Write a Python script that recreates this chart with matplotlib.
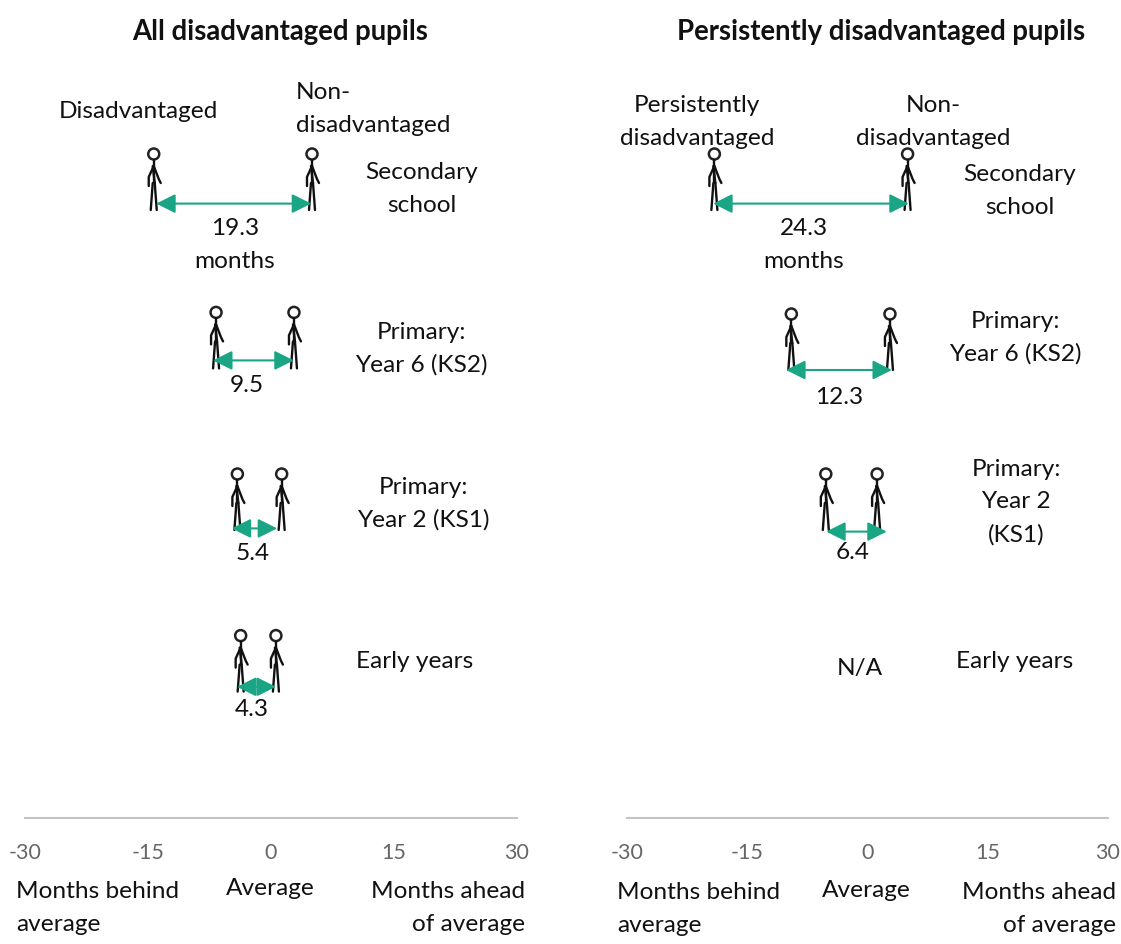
import matplotlib
matplotlib.use('Agg')
import matplotlib.pyplot as plt
from matplotlib.patches import Circle
from matplotlib.transforms import Affine2D

W, H = 1121, 945
TEAL = '#1aa585'
GREY = '#666666'
FONT = 'Lato'
SIZE = 17.6

ticks = [-30, -15, 0, 15, 30]

# rows: secondary, year 6, year 2, early years
all_low = [-14.3, -6.7, -4.1, -3.7]
all_high = [5.0, 2.8, 1.3, 0.6]
all_row = [0.0, 0.99, 2.0, 3.01]
all_arrow_low = [-14.0, -7.07, -4.8, -4.15]
all_arrow_high = [4.9, 2.77, 0.75, 0.6]
all_arrow_row = [-0.04, 0.94, 1.99, 2.98]
all_gaps = ['19.3\nmonths', '9.5', '5.4', '4.3']

pers_low = [-19.1, -9.5, -5.2]
pers_high = [5.0, 2.8, 1.2]
pers_row = [0.0, 1.0, 2.0]
pers_arrow_low = [-19.25, -10.15, -5.15]
pers_arrow_high = [5.15, 3.05, 2.4]
pers_arrow_row = [-0.04, 1.0, 2.01]
pers_gaps = ['24.3\nmonths', '12.3', '6.4']

plt.rcParams['font.family'] = [FONT, 'DejaVu Sans']
fig = plt.figure(figsize=(W / 100, H / 100), dpi=100)


def make_axes(x0, x1):
    # bottom spine sits at y=819, rows are 160px apart
    ax = fig.add_axes([x0 / W, 1 - 819 / H, (x1 - x0) / W, (819 - 51) / H])
    ax.set_xlim(-30, 30)
    ax.set_ylim(3.8, -1)
    ax.set_xticks(ticks)
    ax.set_xticklabels([str(t) for t in ticks], fontsize=15.5, color=GREY)
    ax.set_yticks([])
    ax.tick_params(axis='x', length=0, pad=17)
    ax.patch.set_visible(False)
    for s in ['top', 'left', 'right']:
        ax.spines[s].set_visible(False)
    ax.spines['bottom'].set_color('#c4c4c4')
    ax.spines['bottom'].set_linewidth(1.5)
    return ax


def stick_man(ax, x, row):
    px, py = ax.transData.transform((x, row))
    # local coords in pixels, y down, feet at 0
    tr = Affine2D().scale(1, -1).translate(px, py)
    ax.add_patch(Circle((0, -56), 5.5, fill=False, ec='#222222', lw=1.8, transform=tr, clip_on=False))
    parts = [
        ([0, 0], [-50, -27]),
        ([-1, -3], [-27, 0]),
        ([1, 3], [-27, 0]),
        ([0, -5, -5], [-44, -33, -24]),
        ([0, 5, 7], [-44, -31, -27]),
        ([-1, 1], [-44, -27]),
    ]
    for xs, ys in parts:
        ax.plot(xs, ys, color='#111111', lw=1.7, transform=tr, clip_on=False,
                solid_capstyle='round')


def arrow(ax, x0, x1, row):
    ax.annotate('', xy=(x1, row), xytext=(x0, row),
                arrowprops=dict(arrowstyle='<|-|>,head_length=0.58,head_width=0.29',
                                color=TEAL, lw=1.5, shrinkA=0, shrinkB=0,
                                mutation_scale=20))


def label(x, y, s, ha='center', bold=False, size=SIZE, ls=1.66):
    fig.text(x / W, 1 - y / H, s, ha=ha, va='center', multialignment=ha,
             fontsize=size, linespacing=ls, color='#111111',
             fontweight='bold' if bold else 'normal')


ax1 = make_axes(25, 517)
ax2 = make_axes(627, 1108)
fig.canvas.draw()

for i in range(len(all_low)):
    stick_man(ax1, all_low[i], all_row[i])
    stick_man(ax1, all_high[i], all_row[i])
    arrow(ax1, all_arrow_low[i], all_arrow_high[i], all_arrow_row[i])

for i in range(len(pers_low)):
    stick_man(ax2, pers_low[i], pers_row[i])
    stick_man(ax2, pers_high[i], pers_row[i])
    arrow(ax2, pers_arrow_low[i], pers_arrow_high[i], pers_arrow_row[i])

# left panel text
label(280, 32, 'All disadvantaged pupils', bold=True, size=19.8)
label(138, 112, 'Disadvantaged')
label(296, 109, 'Non-\ndisadvantaged', ha='left')
label(422, 189, 'Secondary\nschool')
label(235, 245, all_gaps[0])
label(421, 349, 'Primary:\nYear 6 (KS2)')
label(247, 386, all_gaps[1])
label(423, 504, 'Primary:\nYear 2 (KS1)')
label(253, 554, all_gaps[2])
label(415, 662, 'Early years')
label(252, 709, all_gaps[3])
label(16, 908, 'Months behind\naverage', ha='left')
label(270, 889, 'Average')
label(525, 908, 'Months ahead\nof average', ha='right')

# right panel text
label(881, 32, 'Persistently disadvantaged pupils', bold=True, size=19.8)
label(697, 122, 'Persistently\ndisadvantaged')
label(933, 122, 'Non-\ndisadvantaged')
label(1020, 191, 'Secondary\nschool')
label(804, 245, pers_gaps[0])
label(1015, 338, 'Primary:\nYear 6 (KS2)')
label(839, 398, pers_gaps[1])
label(1016, 502, 'Primary:\nYear 2\n(KS1)')
label(853, 553, pers_gaps[2])
label(860, 669, 'N/A')
label(1015, 662, 'Early years')
label(617, 909, 'Months behind\naverage', ha='left')
label(866, 891, 'Average')
label(1116, 909, 'Months ahead\nof average', ha='right')

fig.savefig('out.png', dpi=100)
